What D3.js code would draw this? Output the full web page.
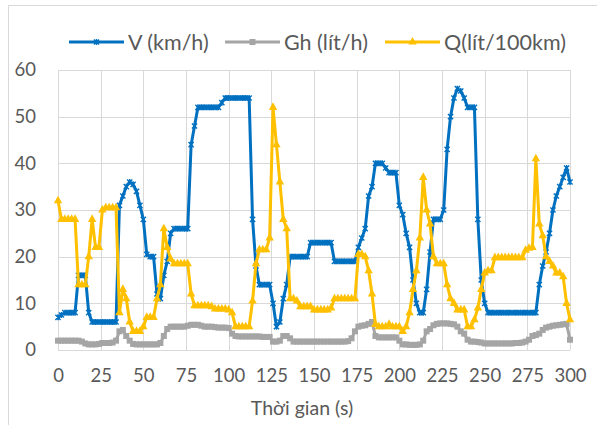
<!DOCTYPE html>
<html>
<head>
<meta charset="utf-8">
<script src="https://cdn.jsdelivr.net/npm/d3@7"></script>
<style>
  body { margin: 0; background: #fff; }
  svg { display: block; font-family: Lato, "Liberation Sans", sans-serif; }
</style>
</head>
<body>
<svg id="chart" width="597" height="425"></svg>
<script>
// thời gian (s), mỗi 2 s
const timeSec = [
  0, 2, 4, 6, 8, 10, 12, 14, 16, 18, 20, 22, 24, 26, 28, 30, 32, 34, 36, 38,
  40, 42, 44, 46, 48, 50, 52, 54, 56, 58, 60, 62, 64, 66, 68, 70, 72, 74, 76, 78,
  80, 82, 84, 86, 88, 90, 92, 94, 96, 98, 100, 102, 104, 106, 108, 110, 112, 114, 116, 118,
  120, 122, 124, 126, 128, 130, 132, 134, 136, 138, 140, 142, 144, 146, 148, 150, 152, 154, 156, 158,
  160, 162, 164, 166, 168, 170, 172, 174, 176, 178, 180, 182, 184, 186, 188, 190, 192, 194, 196, 198,
  200, 202, 204, 206, 208, 210, 212, 214, 216, 218, 220, 222, 224, 226, 228, 230, 232, 234, 236, 238,
  240, 242, 244, 246, 248, 250, 252, 254, 256, 258, 260, 262, 264, 266, 268, 270, 272, 274, 276, 278,
  280, 282, 284, 286, 288, 290, 292, 294, 296, 298, 300
];

// V (km/h)
const speedV = [
  7, 7.5, 8, 8, 8, 8, 16, 16, 16, 8,
  6, 6, 6, 6, 6, 6, 6, 6, 31, 33,
  35, 36, 35.5, 34, 31, 28, 20.5, 20, 20, 12,
  11, 16, 19, 25, 26, 26, 26, 26, 26, 44,
  48, 52, 52, 52, 52, 52, 52, 52, 53, 54,
  54, 54, 54, 54, 54, 54, 54, 28, 18, 14,
  14, 14, 14, 10, 5, 6, 11, 14, 20, 20,
  20, 20, 20, 20, 23, 23, 23, 23, 23, 23,
  23, 19, 19, 19, 19, 19, 19, 19, 22, 24,
  26, 33, 35, 40, 40, 40, 39, 38, 38, 38,
  31, 29, 25, 22, 15, 10, 8, 8, 13, 21,
  28, 28, 28, 30, 43, 50, 54, 56, 55.5, 54,
  52, 52, 52, 28, 15, 10, 8, 8, 8, 8,
  8, 8, 8, 8, 8, 8, 8, 8, 8, 8,
  8, 14, 18, 21, 25, 30, 33, 35, 37, 39,
  36
];

// Gh (lít/h)
const fuelGh = [
  2, 2, 2, 2, 2, 2, 2, 1.8, 1.4, 1.2,
  1.2, 1.2, 1.3, 1.5, 1.5, 1.5, 1.6, 2, 4, 4.3,
  3, 2, 1.3, 1.2, 1.2, 1.2, 1.2, 1.2, 1.2, 1.2,
  1.5, 3, 4.5, 5, 5, 5, 5, 5, 5.2, 5.4,
  5.4, 5.4, 5.2, 5, 5, 5, 4.9, 4.8, 4.8, 4.8,
  4.7, 3.5, 3, 2.9, 2.9, 2.9, 2.9, 2.9, 2.9, 2.9,
  2.8, 2.8, 2.8, 1.8, 1.8, 2, 3, 3, 2.5, 1.8,
  1.8, 1.8, 1.8, 1.8, 1.8, 1.8, 1.8, 1.8, 1.8, 1.8,
  1.8, 1.8, 1.8, 1.8, 1.8, 1.9, 2.5, 4, 5, 5.2,
  5.3, 5.6, 6, 3, 2.7, 2.7, 2.7, 2.7, 2.7, 2.7,
  2, 1.2, 1.2, 1.1, 1.1, 1.1, 1.2, 2, 4, 4.5,
  5.3, 5.6, 5.7, 5.7, 5.7, 5.6, 5.5, 5, 4, 3.5,
  2.2, 1.8, 1.8, 1.7, 1.6, 1.4, 1.4, 1.4, 1.4, 1.4,
  1.4, 1.4, 1.4, 1.4, 1.5, 1.5, 1.6, 1.8, 2.2, 3,
  3.2, 3.5, 4.3, 4.8, 5, 5.2, 5.3, 5.4, 5.5, 5.6,
  2.2
];

// Q (lít/100km)
const fuelQ = [
  32, 28, 28, 28, 28, 28, 14, 14, 14, 20,
  28, 22, 22, 30, 30.5, 30.5, 30.5, 30.5, 8, 13,
  11, 6, 4, 4, 4, 5, 7, 7, 7, 11,
  14, 26, 22, 19.5, 18.5, 18.5, 18.5, 18.5, 18.5, 12,
  9.5, 9.5, 9.5, 9.5, 9.5, 9.3, 8.8, 8.8, 8.8, 8.8,
  8.6, 8, 5, 5, 5, 5, 5, 10.5, 18.5, 21.5,
  21.5, 21.5, 24, 52, 44, 36, 28, 26, 11, 11,
  10.5, 9.3, 9.3, 9.3, 9.3, 8.6, 8.6, 8.6, 8.6, 8.6,
  9, 11, 11, 11, 11, 11, 11, 11, 20.5, 20.5,
  20, 17, 12, 5.5, 5, 5, 5, 5.5, 5, 5,
  5, 4, 5, 8, 13, 17, 24, 37, 30, 27,
  20, 18.5, 18.5, 18.5, 14, 11, 10, 8.6, 8.6, 8.6,
  5, 5, 6.5, 9, 13, 16.5, 17, 17, 19.8, 19.8,
  19.8, 19.8, 19.8, 19.8, 19.8, 19.8, 19.8, 21.4, 21.8, 22,
  41, 27, 24.5, 20, 19, 18, 16.5, 16.5, 15.7, 10,
  6.5
];

const seriesNames = ["V (km/h)", "Gh (lít/h)", "Q(lít/100km)"];
const xTicks = [0, 25, 50, 75, 100, 125, 150, 175, 200, 225, 250, 275, 300];
const yTicks = [0, 10, 20, 30, 40, 50, 60];

const colors = ["#0070C0", "#A5A5A5", "#FFC000"];
const markerKind = ["star", "square", "triangle"];

const svg = d3.select("#chart");

// khung biểu đồ
svg.append("rect")
  .attr("x", 8.5).attr("y", 5.5)
  .attr("width", 620).attr("height", 440)
  .attr("fill", "none").attr("stroke", "#D9D9D9");

const x = d3.scaleLinear().domain([0, 300]).range([58, 570]);
const y = d3.scaleLinear().domain([0, 60]).range([350, 70]);

// lưới
const grid = svg.append("g").attr("stroke", "#D9D9D9").attr("stroke-width", 1);
grid.selectAll(".h").data(yTicks).join("line")
  .attr("x1", x(0)).attr("x2", x(300))
  .attr("y1", d => Math.round(y(d)) + 0.5).attr("y2", d => Math.round(y(d)) + 0.5);
grid.selectAll(".v").data(xTicks).join("line")
  .attr("y1", y(0)).attr("y2", y(60))
  .attr("x1", d => Math.round(x(d)) + 0.5).attr("x2", d => Math.round(x(d)) + 0.5);

// trục
const xAxis = svg.append("g")
  .attr("transform", `translate(0,${y(0) + 16})`)
  .call(d3.axisBottom(x).tickValues(xTicks).tickSize(0).tickFormat(d3.format("d")));
const yAxis = svg.append("g")
  .attr("transform", `translate(${x(0) - 19},0)`)
  .call(d3.axisLeft(y).tickValues(yTicks).tickSize(0).tickFormat(d3.format("d")));
[xAxis, yAxis].forEach(a => {
  a.select(".domain").remove();
  a.selectAll("text")
    .attr("fill", "#595959")
    .style("font-family", "Lato, 'Liberation Sans', sans-serif")
    .style("font-size", "18.5px");
});

svg.append("text")
  .attr("x", 302).attr("y", 415)
  .attr("text-anchor", "middle")
  .attr("fill", "#595959")
  .style("font-size", "19.5px")
  .text("Thời gian (s)");

// marker
function drawMarker(sel, kind, color) {
  if (kind === "star") {
    sel.append("path")
      .attr("d", "M-2.6,-2.6L2.6,2.6M-2.6,2.6L2.6,-2.6M0,-3L0,3")
      .attr("stroke", color).attr("stroke-width", 1.4).attr("fill", "none");
  } else if (kind === "square") {
    sel.append("rect")
      .attr("x", -3).attr("y", -3).attr("width", 6).attr("height", 6)
      .attr("fill", color);
  } else {
    sel.append("path")
      .attr("d", "M0,-5L4.2,2.6L-4.2,2.6Z")
      .attr("fill", color);
  }
}

const allSeries = [speedV, fuelGh, fuelQ];
const line = d3.line().x(d => x(d[0])).y(d => y(d[1]));

allSeries.forEach((vals, i) => {
  const pts = timeSec.map((t, k) => [t, vals[k]]);
  const g = svg.append("g");
  g.append("path")
    .datum(pts)
    .attr("d", line)
    .attr("fill", "none")
    .attr("stroke", colors[i])
    .attr("stroke-width", 3)
    .attr("stroke-linejoin", "round");
  g.selectAll("g.m").data(pts).join("g")
    .attr("class", "m")
    .attr("transform", d => `translate(${x(d[0])},${y(d[1])})`)
    .each(function () { drawMarker(d3.select(this), markerKind[i], colors[i]); });
});

// chú giải
const legendX = [69, 225, 385];
const legend = svg.append("g");
seriesNames.forEach((name, i) => {
  const lg = legend.append("g").attr("transform", `translate(${legendX[i]},42)`);
  lg.append("line")
    .attr("x1", 0).attr("x2", 55).attr("y1", 0).attr("y2", 0)
    .attr("stroke", colors[i]).attr("stroke-width", 3);
  const m = lg.append("g").attr("transform", "translate(27.5,0)");
  drawMarker(m, markerKind[i], colors[i]);
  lg.append("text")
    .attr("x", 59).attr("y", 0).attr("dy", "0.35em")
    .attr("fill", "#595959")
    .style("font-size", "21.5px")
    .text(name);
});
</script>
</body>
</html>
